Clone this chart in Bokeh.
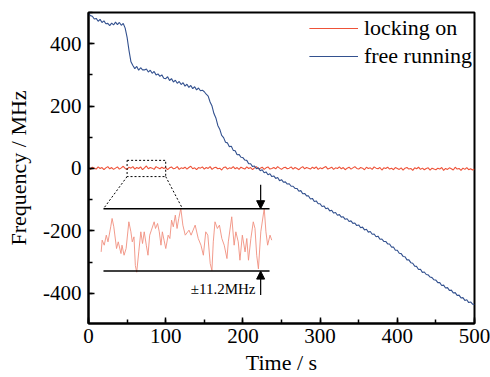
import numpy as np
from bokeh.plotting import figure
from bokeh.models import Range1d, SingleIntervalTicker, Arrow, NormalHead, Label
from bokeh.embed import file_html
from bokeh.resources import INLINE

# ---------------- data ----------------
free_running = [
    497, 490, 488, 479, 481, 472, 478, 468, 473, 464, 465, 458, 466, 460, 469, 461, 468, 459, 465, 450,
    420, 378, 342, 330, 320, 327, 315, 323, 316, 316, 319, 309, 315, 305, 311, 300, 303, 295, 300, 289,
    288, 294, 282, 288, 277, 283, 273, 279, 269, 275, 264, 270, 260, 266, 256, 262, 252, 258, 249, 251,
    246, 238, 232, 213, 200, 176, 162, 138, 126, 106, 99, 84, 82, 70, 71, 58, 57, 44, 45, 36,
    35, 27, 26, 15, 15, 6, 8, -1, 2, -7, -4, -14, -11, -20, -17, -26, -24, -32, -29, -39,
    -36, -44, -43, -50, -49, -57, -57, -64, -64, -73, -71, -81, -80, -88, -88, -98, -96, -106, -104, -113,
    -113, -122, -120, -129, -127, -136, -134, -143, -141, -150, -148, -156, -155, -163, -161, -170, -168, -176, -175, -183,
    -181, -190, -188, -197, -195, -204, -202, -211, -210, -219, -217, -227, -226, -234, -234, -242, -242, -252, -252, -262,
    -262, -272, -273, -282, -283, -293, -293, -302, -304, -313, -314, -324, -323, -333, -332, -340, -341, -348, -350, -357,
    -358, -366, -366, -375, -374, -383, -382, -391, -390, -399, -398, -407, -406, -415, -414, -423, -421, -430, -428, -435,
    -436,
]
locking_on = [
    2, -3, 4, 1, -2, 5, 0, 3, -4, 2, 6, -1, 3, -3, 1, 5, -2, 2, 7, 0,
    -3, 4, 1, 6, -2, 3, 0, 5, -4, 2, 8, -1, 3, 1, -3, 6, 2, -1, 4, 0,
    3, -4, 2, 5, -1, 1, 6, -3, 2, 0, 4, -2, 3, 7, -1, 2, -4, 3, 1, 5,
    -2, 3, 0, 6, -3, 2, 4, -1, 1, -5, 3, 5, -2, 2, 0, 6, -1, 3, -3, 4,
    1, -2, 5, 0, 3, -4, 2, 6, -1, 1, 4, -3, 2, 5, -2, 0, 3, -1, 6, 1,
    -3, 2, 4, -1, 1, 5, -2, 3, 0, -4, 2, 6, -1, 3, 1, -2, 4, 0, 5, -3,
    2, -1, 3, 6, -2, 1, 4, -3, 2, 0, 5, -1, 3, -4, 1, 4, -2, 2, 6, 0,
    -2, 3, 1, -4, 4, 0, 2, -3, 5, 1, -1, 3, -5, 2, 0, 4, -2, 1, -4, 3,
    0, -3, 2, -5, 1, 3, -2, 0, -6, 2, -1, 4, -3, 1, -4, 0, 2, -5, 1, -2,
    -4, 1, -2, 3, -6, 0, -3, 2, -1, -5, 4, -2, 0, -6, 1, -3, 3, -4, -1, -5,
    -2,
]
time_s = [i * 2.5 for i in range(len(free_running))]

# zoomed detail of the locked signal (t = 50 ... 100 s)
zoom_t = [
    50.0, 50.3, 50.9, 51.5, 52.0, 52.8, 53.2, 53.7, 54.5, 55.0, 55.8, 56.1, 56.7, 57.3, 58.1, 58.7, 59.1, 59.6,
    60.0, 60.4, 61.0, 61.6, 62.1, 62.6, 63.2, 63.7, 64.2, 64.7, 65.5, 65.9, 66.5, 67.0, 67.5, 67.9, 68.4, 68.9,
    69.6, 70.1, 70.6, 71.1, 71.7, 72.2, 72.7, 73.3, 73.9, 74.6, 75.7, 76.3, 77.5, 78.4, 79.2, 79.9, 80.6, 81.2,
    81.9, 82.4, 82.8, 83.3, 84.0, 84.6, 85.3, 86.0, 86.8, 87.2, 88.2, 88.9, 89.4, 90.1, 90.6, 91.3, 92.1, 92.6,
    93.1, 93.8, 94.5, 95.0, 95.5, 96.0, 96.7, 97.7, 98.2, 98.7, 99.4, 99.9,
]
zoom_f = [
    -4.3, -0.1, -1.9, 1.7, -0.7, 4.7, 7.7, 4.7, -3.1, -0.7, -4.9, -1.9, -5.5, -3.1, 6.5, 2.9, -0.7, 1.1,
    -9.2, -11.6, -4.3, 2.9, -1.3, 2.9, -1.9, -5.5, 1.7, 3.5, 6.5, 4.1, 5.9, 2.9, -1.9, 2.9, -0.1, -3.1,
    1.7, 0.5, 7.1, 4.7, 8.9, 4.1, 7.7, 11.3, 5.3, 1.7, 3.5, 1.7, 5.3, 0.5, -1.9, -5.5, 2.9, 1.7,
    -8.5, -11.0, -0.7, 6.5, 4.1, 5.3, 0.5, -1.9, -6.7, -0.7, 8.3, -1.9, 2.9, -0.7, -7.3, 1.7, -4.3, 0.5,
    -7.3, 0.5, 6.5, 4.1, -5.5, -10.4, 2.9, 11.3, 2.9, -1.9, 1.7, -0.1,
]
band_mhz = 11.2
x_ticks = [0, 100, 200, 300, 400, 500]
y_ticks = [-400, -200, 0, 200, 400]
x_title = "Time / s"
y_title = "Frequency / MHz"

# ---------------- styles / layout ----------------
FONT = "Liberation Serif"
RED = "#EE5238"
BLUE = "#33518F"
INSET_RED = "#F0907F"

ZOOM_T0, ZOOM_T1 = 50.0, 100.0
ZOOM_BOX_Y = 26.0
INSET_X0, INSET_X1 = 16.4, 237.8
LINE_X0, LINE_X1 = 19.4, 234.5
INSET_YC, INSET_HALF = -229.0, 100.0
ARROW_X = 223.0

p = figure(width=490, height=377, output_backend="svg", toolbar_location=None,
           x_range=Range1d(0, 500), y_range=Range1d(-497, 500),
           min_border_left=88, min_border_right=16, min_border_top=12, min_border_bottom=54)
p.background_fill_color = "white"
p.border_fill_color = "white"
p.xgrid.visible = False
p.ygrid.visible = False
p.outline_line_color = "black"
p.outline_line_width = 2

for ax, interval in ((p.xaxis[0], 100), (p.yaxis[0], 200)):
    ax.ticker = SingleIntervalTicker(interval=interval, num_minor_ticks=2)
    ax.axis_line_width = 2
    ax.axis_line_color = "black"
    ax.major_tick_in = 6
    ax.major_tick_out = 0
    ax.minor_tick_in = 4
    ax.minor_tick_out = 0
    ax.major_tick_line_width = 1.5
    ax.minor_tick_line_width = 1.5
    ax.major_label_text_font = FONT
    ax.major_label_text_font_size = "21px"
    ax.major_label_text_color = "black"
    ax.axis_label_text_font = FONT
    ax.axis_label_text_font_size = "22px"
    ax.axis_label_text_font_style = "normal"
    ax.axis_label_text_color = "black"

p.xaxis.axis_label = x_title
p.yaxis.axis_label = y_title
p.xaxis.major_label_standoff = 5
p.yaxis.major_label_standoff = 7
p.xaxis.axis_label_standoff = 4
p.yaxis.axis_label_standoff = 9
p.yaxis.major_label_overrides = {v: str(v) for v in y_ticks}
p.xaxis.major_label_overrides = {v: str(v) for v in x_ticks}

# main curves
p.line(time_s, locking_on, line_color=RED, line_width=1.1, legend_label="locking on")
p.line(time_s, free_running, line_color=BLUE, line_width=1.1, legend_label="free running")

# dotted zoom box and connectors
p.line([ZOOM_T0, ZOOM_T1, ZOOM_T1, ZOOM_T0, ZOOM_T0],
       [ZOOM_BOX_Y, ZOOM_BOX_Y, -ZOOM_BOX_Y, -ZOOM_BOX_Y, ZOOM_BOX_Y],
       line_color="black", line_width=1, line_dash="2 2")
p.line([ZOOM_T0, LINE_X0], [-ZOOM_BOX_Y, INSET_YC + INSET_HALF],
       line_color="black", line_width=1, line_dash="2 2")
p.line([ZOOM_T1, 121.8], [-ZOOM_BOX_Y, INSET_YC + INSET_HALF],
       line_color="black", line_width=1, line_dash="2 2")

# inset trace (zoomed data mapped into the inset box)
zt = np.array(zoom_t)
zf = np.array(zoom_f)
inset_x = INSET_X0 + (zt - ZOOM_T0) * (INSET_X1 - INSET_X0) / (ZOOM_T1 - ZOOM_T0)
inset_y = INSET_YC + zf * INSET_HALF / band_mhz
p.line(inset_x, inset_y, line_color=INSET_RED, line_width=0.9)

for yy in (INSET_YC + INSET_HALF, INSET_YC - INSET_HALF):
    p.line([LINE_X0, LINE_X1], [yy, yy], line_color="black", line_width=1.5)

p.add_layout(Arrow(end=NormalHead(size=8, fill_color="black", line_color="black"),
                   x_start=ARROW_X, y_start=INSET_YC + INSET_HALF + 77,
                   x_end=ARROW_X, y_end=INSET_YC + INSET_HALF,
                   line_color="black", line_width=1.2))
p.add_layout(Arrow(end=NormalHead(size=8, fill_color="black", line_color="black"),
                   x_start=ARROW_X, y_start=INSET_YC - INSET_HALF - 77,
                   x_end=ARROW_X, y_end=INSET_YC - INSET_HALF,
                   line_color="black", line_width=1.2))
p.add_layout(Label(x=216.3, y=-387, text="\u00b1%.1fMHz" % band_mhz, text_align="right",
                   text_baseline="middle", text_font=FONT, text_font_size="15px",
                   text_color="black"))

# legend
lg = p.legend[0]
lg.location = "top_right"
lg.border_line_color = None
lg.background_fill_alpha = 0
lg.label_text_font = FONT
lg.label_text_font_size = "22px"
lg.label_text_color = "black"
lg.glyph_width = 49
lg.glyph_height = 28
lg.label_height = 28
lg.label_standoff = 6
lg.spacing = 0
lg.padding = 0
lg.margin = 2

open("out.html", "w").write(file_html(p, INLINE))
